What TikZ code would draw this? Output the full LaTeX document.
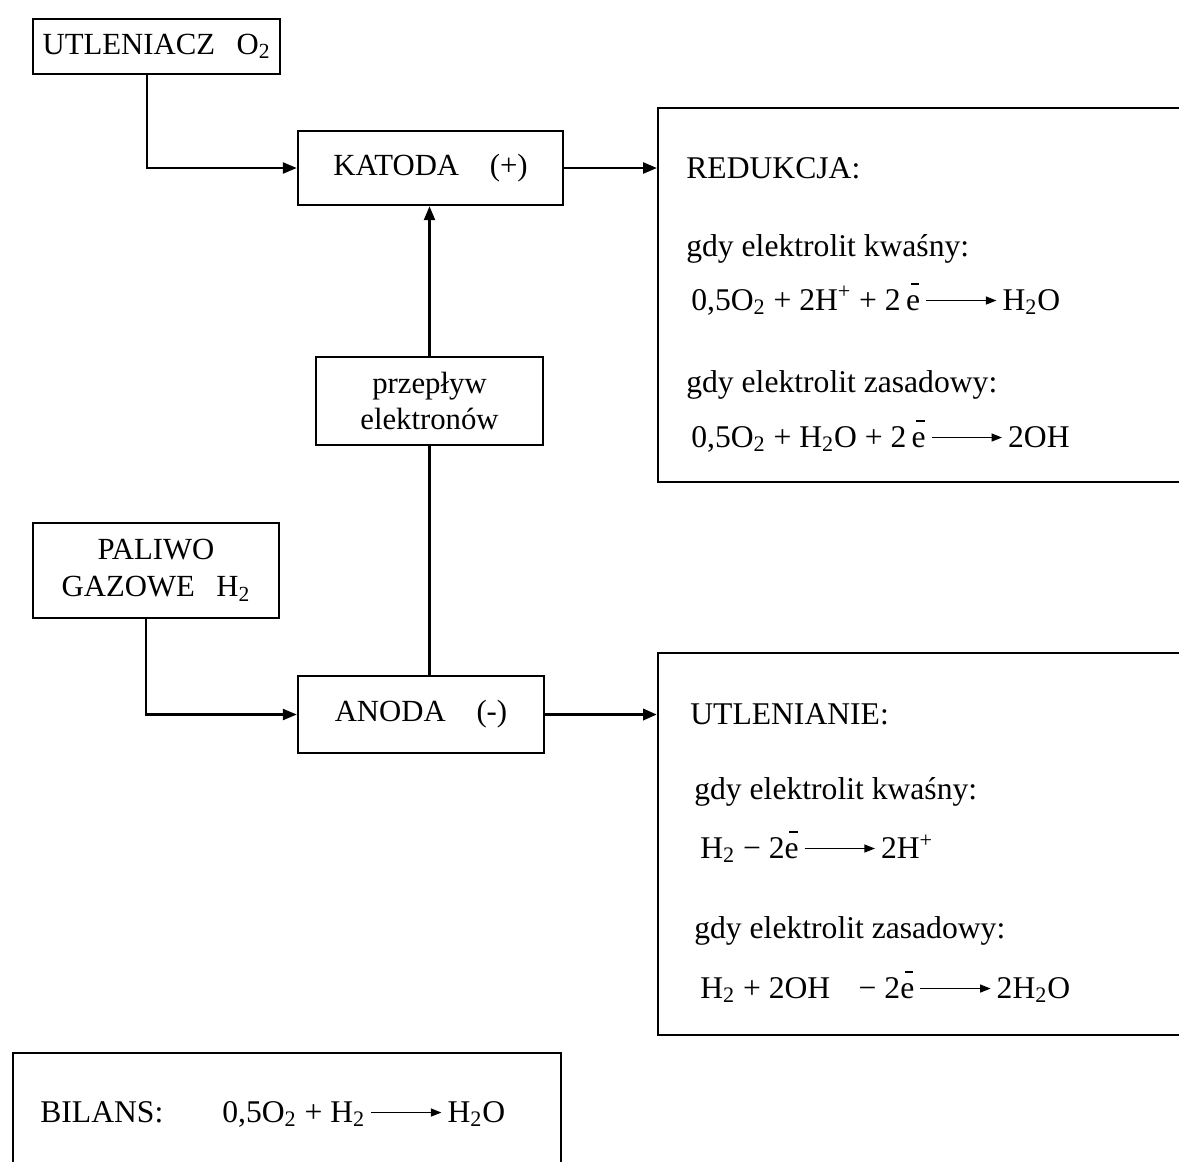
\documentclass[tikz,border=0pt]{standalone}
\usepackage{fontspec}
\setmainfont{Liberation Serif}
\usetikzlibrary{arrows.meta,calc}
\newcommand\elec{\leavevmode\rlap{\raisebox{0.8em}{\kern0.15em\rule{0.26em}{0.06em}}}e}
\newcommand\larr{\,\tikz[baseline=-0.3em,x=1pt,y=1pt]{\draw[line width=0.9pt,-{Triangle[length=6pt,width=4.5pt]}] (0,0) -- (40,0);}\,}
\begin{document}
\begin{tikzpicture}[x=0.02cm,y=-0.02cm,
  box/.style={draw, line width=1.4pt, inner sep=0pt, align=center, font=\fontsize{17.5}{21}\selectfont},
  txt/.style={anchor=base west, inner sep=0pt, font=\fontsize{18}{21}\selectfont},
  arr/.style={line width=1.4pt, -{Triangle[length=0.28cm,width=0.22cm]}}]
\useasboundingbox (0,0) rectangle (1179,1161);
\clip (0,0) rectangle (1179,1161);
% left column boxes
\node[box, minimum width=4.94cm, minimum height=1.10cm] (utl) at (156.5,46.5) {UTLENIACZ\hspace{0.7em}O\textsubscript{2}};
\node[box, minimum width=5.30cm, minimum height=1.48cm] (kat) at (430.5,168) {KATODA\hspace{1em}(+)};
\node[box, minimum width=4.54cm, minimum height=1.76cm] (prz) at (429.5,401) {przepływ\\elektronów};
\node[box, minimum width=4.92cm, minimum height=1.90cm] (pal) at (156,570.5) {PALIWO\\GAZOWE\hspace{0.7em}H\textsubscript{2}};
\node[box, minimum width=4.92cm, minimum height=1.54cm] (ano) at (421,714.5) {ANODA\hspace{1em}(-)};
% right boxes
\node[box, anchor=north west, minimum width=11.2cm, minimum height=7.48cm] (red) at (657,107) {};
\node[box, anchor=north west, minimum width=11.2cm, minimum height=7.64cm] (utn) at (657,652) {};
\node[box, anchor=north west, minimum width=10.96cm, minimum height=4cm] (bil) at (12,1052) {};
% texts in right boxes
\node[txt] (redH) at (686,178) {REDUKCJA:};
\node[txt] (redK) at (686,256) {gdy elektrolit kwaśny:};
\node[txt] (redE1) at (691,310) {0,5O\textsubscript{2} + 2H\textsuperscript{+} + 2\,\elec\larr H\textsubscript{2}O};
\node[txt] (redZ) at (686,392) {gdy elektrolit zasadowy:};
\node[txt] (redE2) at (691,447) {0,5O\textsubscript{2} + H\textsubscript{2}O + 2\,\elec\larr 2OH};
\node[txt] (utnH) at (690,724) {UTLENIANIE:};
\node[txt] (utnK) at (694,799) {gdy elektrolit kwaśny:};
\node[txt] (utnE1) at (700,858) {H\textsubscript{2} − 2\elec\larr 2H\textsuperscript{+}};
\node[txt] (utnZ) at (694,938) {gdy elektrolit zasadowy:};
\node[txt] (utnE2) at (700,998) {H\textsubscript{2} + 2OH\hspace{0.9em}− 2\elec\larr 2H\textsubscript{2}O};
\node[txt] (bilH) at (40,1122) {BILANS:};
\node[txt] (bilE) at (222,1122) {0,5O\textsubscript{2} + H\textsubscript{2}\larr H\textsubscript{2}O};
% connectors
\draw[arr] ([xshift=-0.19cm]utl.south) |- (kat.west);
\draw[arr] ([xshift=-0.2cm]pal.south) |- (ano.west);
\draw[arr] (kat.east) -- (kat.east -| red.west);
\draw[arr, line width=2.2pt] (ano.east) -- (ano.east -| utn.west);
\draw[arr] (prz.north) -- (prz.north |- kat.south);
\draw[line width=1.4pt] (prz.south) -- (prz.south |- ano.north);
\end{tikzpicture}
\end{document}
